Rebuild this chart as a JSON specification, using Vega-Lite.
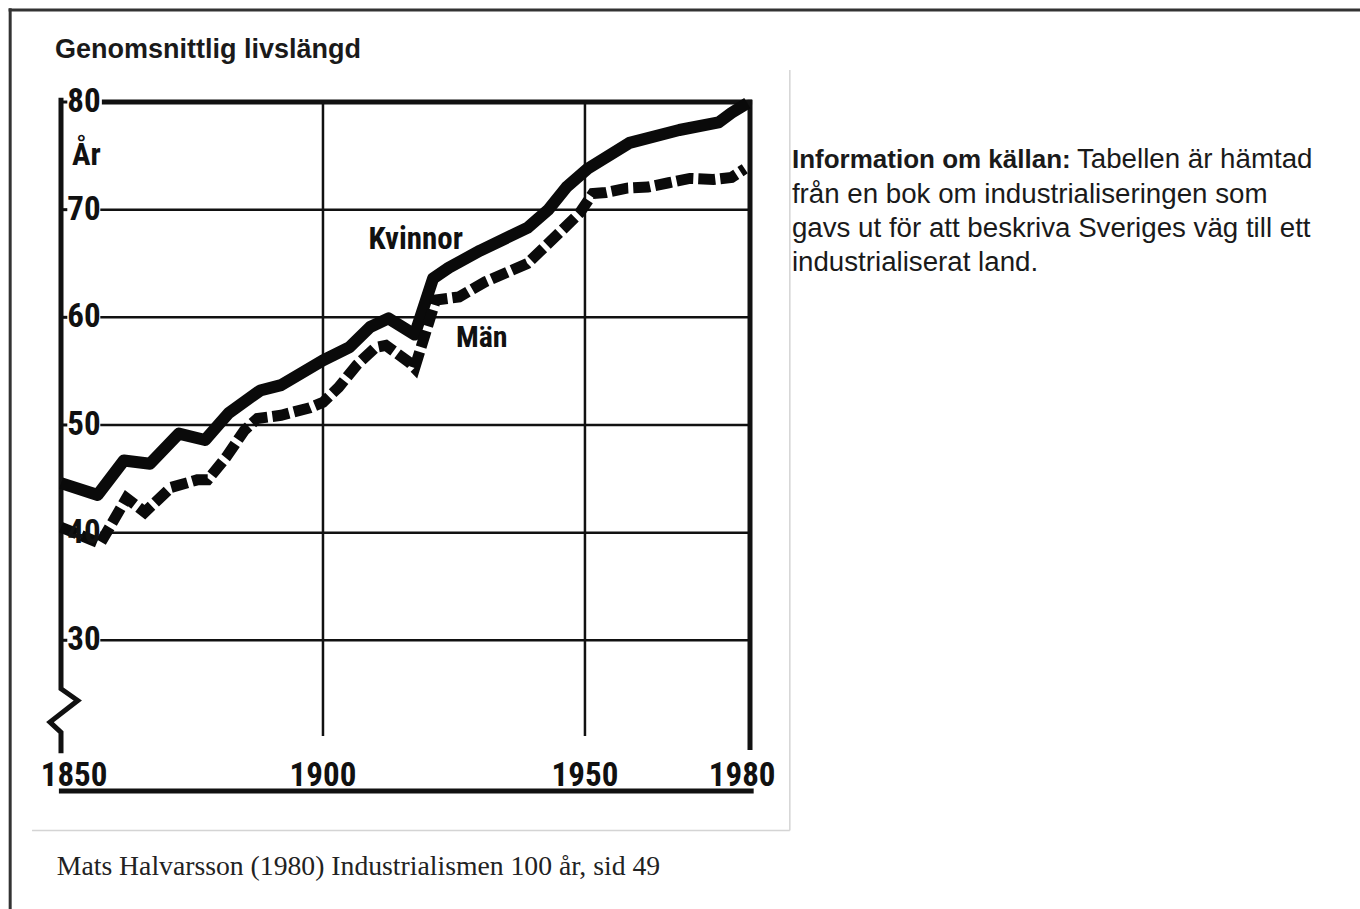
{
  "$schema": "https://vega.github.io/schema/vega-lite/v6.json",
  "width": 689,
  "height": 689,
  "autosize": {"type": "none"},
  "padding": {"left": 61, "top": 102, "right": 610, "bottom": 118},
  "background": "white",
  "config": {"view": {"stroke": null}},
  "data": {
    "values": [
      {"series": "Kvinnor", "year": 1850, "value": 44.6},
      {"series": "Kvinnor", "year": 1857, "value": 43.5},
      {"series": "Kvinnor", "year": 1862, "value": 46.7},
      {"series": "Kvinnor", "year": 1867, "value": 46.4},
      {"series": "Kvinnor", "year": 1872.5, "value": 49.2},
      {"series": "Kvinnor", "year": 1877.5, "value": 48.6},
      {"series": "Kvinnor", "year": 1882, "value": 51.1},
      {"series": "Kvinnor", "year": 1888, "value": 53.2},
      {"series": "Kvinnor", "year": 1892, "value": 53.7},
      {"series": "Kvinnor", "year": 1900, "value": 56.0},
      {"series": "Kvinnor", "year": 1905, "value": 57.2},
      {"series": "Kvinnor", "year": 1909, "value": 59.1},
      {"series": "Kvinnor", "year": 1912.5, "value": 59.9},
      {"series": "Kvinnor", "year": 1917.5, "value": 58.4},
      {"series": "Kvinnor", "year": 1921, "value": 63.6},
      {"series": "Kvinnor", "year": 1924, "value": 64.6},
      {"series": "Kvinnor", "year": 1930, "value": 66.2},
      {"series": "Kvinnor", "year": 1939, "value": 68.3},
      {"series": "Kvinnor", "year": 1943, "value": 70.0},
      {"series": "Kvinnor", "year": 1946.5, "value": 72.1},
      {"series": "Kvinnor", "year": 1950.5, "value": 73.8},
      {"series": "Kvinnor", "year": 1958.5, "value": 76.2},
      {"series": "Kvinnor", "year": 1968, "value": 77.4},
      {"series": "Kvinnor", "year": 1975.5, "value": 78.1},
      {"series": "Kvinnor", "year": 1978, "value": 79.0},
      {"series": "Kvinnor", "year": 1981, "value": 79.9},
      {"series": "Män", "year": 1850, "value": 40.5},
      {"series": "Män", "year": 1857.5, "value": 39.0},
      {"series": "Män", "year": 1862.5, "value": 43.2},
      {"series": "Män", "year": 1866, "value": 41.9},
      {"series": "Män", "year": 1871, "value": 44.2},
      {"series": "Män", "year": 1876, "value": 44.9},
      {"series": "Män", "year": 1878, "value": 44.9},
      {"series": "Män", "year": 1881.5, "value": 47.0},
      {"series": "Män", "year": 1885, "value": 49.5},
      {"series": "Män", "year": 1887.5, "value": 50.6},
      {"series": "Män", "year": 1892, "value": 50.9},
      {"series": "Män", "year": 1897.5, "value": 51.6},
      {"series": "Män", "year": 1900, "value": 52.1},
      {"series": "Män", "year": 1903, "value": 53.5},
      {"series": "Män", "year": 1906.5, "value": 55.6},
      {"series": "Män", "year": 1910, "value": 57.2},
      {"series": "Män", "year": 1912, "value": 57.4},
      {"series": "Män", "year": 1916.5, "value": 55.8},
      {"series": "Män", "year": 1917.5, "value": 55.3},
      {"series": "Män", "year": 1921.5, "value": 61.6},
      {"series": "Män", "year": 1926, "value": 61.9},
      {"series": "Män", "year": 1931, "value": 63.3},
      {"series": "Män", "year": 1939, "value": 65.0},
      {"series": "Män", "year": 1945, "value": 67.8},
      {"series": "Män", "year": 1949, "value": 69.7},
      {"series": "Män", "year": 1951.5, "value": 71.5},
      {"series": "Män", "year": 1954, "value": 71.6},
      {"series": "Män", "year": 1958, "value": 72.0},
      {"series": "Män", "year": 1962, "value": 72.1},
      {"series": "Män", "year": 1966, "value": 72.5},
      {"series": "Män", "year": 1970, "value": 72.9},
      {"series": "Män", "year": 1974.5, "value": 72.8},
      {"series": "Män", "year": 1978, "value": 73.0},
      {"series": "Män", "year": 1980.5, "value": 73.8}
    ]
  },
  "layer": [
    {
      "data": {"values": [{}]},
      "mark": {"type": "rule", "color": "#333", "strokeWidth": 3},
      "encoding": {
        "x": {"datum": 1840.3, "axis": null},
        "y": {"datum": 88.7, "axis": null},
        "y2": {"datum": 4}
      }
    },
    {
      "data": {"values": [{}]},
      "mark": {"type": "rule", "color": "#333", "strokeWidth": 3},
      "encoding": {
        "y": {"datum": 88.55, "axis": null},
        "x": {"datum": 1840.0, "axis": null},
        "x2": {"datum": 2100}
      }
    },
    {
      "data": {"values": [{}]},
      "mark": {"type": "rule", "color": "#d4d4d4", "strokeWidth": 1.5},
      "encoding": {
        "x": {"datum": 1989.1, "axis": null},
        "y": {"datum": 82.97, "axis": null},
        "y2": {"datum": 12.34}
      }
    },
    {
      "data": {"values": [{}]},
      "mark": {"type": "rule", "color": "#d4d4d4", "strokeWidth": 1.5},
      "encoding": {
        "y": {"datum": 12.34, "axis": null},
        "x": {"datum": 1844.47, "axis": null},
        "x2": {"datum": 1989.1}
      }
    },
    {
      "data": {"values": [{"level": 30}, {"level": 40}, {"level": 50}, {"level": 60}, {"level": 70}]},
      "mark": {"type": "rule", "color": "#111", "strokeWidth": 2.5},
      "encoding": {
        "y": {"field": "level", "type": "quantitative", "axis": null},
        "x": {"datum": 1857.5, "axis": null},
        "x2": {"datum": 1981.5}
      }
    },
    {
      "data": {"values": [{"level": 30}, {"level": 40}, {"level": 50}, {"level": 60}, {"level": 70}, {"level": 80}]},
      "mark": {"type": "rule", "color": "#111", "strokeWidth": 3},
      "encoding": {
        "y": {"field": "level", "type": "quantitative", "axis": null},
        "x": {"datum": 1850, "axis": null},
        "x2": {"datum": 1851.2}
      }
    },
    {
      "data": {"values": [{}]},
      "mark": {"type": "rule", "color": "#111", "strokeWidth": 5},
      "encoding": {
        "y": {"datum": 80, "axis": null},
        "x": {"datum": 1857.8, "axis": null},
        "x2": {"datum": 1981.9}
      }
    },
    {
      "data": {"values": [{"yr": 1900}, {"yr": 1950}]},
      "mark": {"type": "rule", "color": "#111", "strokeWidth": 2.5},
      "encoding": {
        "x": {"field": "yr", "type": "quantitative", "axis": null},
        "y": {"datum": 80, "axis": null},
        "y2": {"datum": 21.1}
      }
    },
    {
      "data": {"values": [{}]},
      "mark": {"type": "rule", "color": "#111", "strokeWidth": 5},
      "encoding": {
        "x": {"datum": 1981.5, "axis": null},
        "y": {"datum": 80.2, "axis": null},
        "y2": {"datum": 19.8}
      }
    },
    {
      "data": {"values": [{}]},
      "mark": {"type": "rule", "color": "#111", "strokeWidth": 5},
      "encoding": {
        "y": {"datum": 16, "axis": null},
        "x": {"datum": 1849.6, "axis": null},
        "x2": {"datum": 1982.2}
      }
    },
    {
      "data": {"values": [
        {"p": 1, "ax": 1850, "ay": 80.4},
        {"p": 2, "ax": 1850, "ay": 25.5},
        {"p": 3, "ax": 1853.2, "ay": 24.4},
        {"p": 4, "ax": 1847.9, "ay": 22.4},
        {"p": 5, "ax": 1850, "ay": 21.45},
        {"p": 6, "ax": 1850, "ay": 19.5}
      ]},
      "mark": {"type": "line", "color": "#111", "strokeWidth": 5, "strokeJoin": "miter"},
      "encoding": {
        "x": {"field": "ax", "type": "quantitative", "axis": null},
        "y": {"field": "ay", "type": "quantitative", "axis": null},
        "order": {"field": "p"}
      }
    },
    {
      "transform": [{"filter": "datum.series === 'Kvinnor'"}],
      "mark": {"type": "line", "color": "#0a0a0a", "strokeWidth": 12, "strokeJoin": "round"},
      "encoding": {
        "x": {
          "field": "year", "type": "quantitative",
          "scale": {"domain": [1850, 1981.5], "nice": false, "zero": false},
          "axis": null
        },
        "y": {
          "field": "value", "type": "quantitative",
          "scale": {"domain": [16, 80], "nice": false, "zero": false},
          "axis": null
        }
      }
    },
    {
      "transform": [{"filter": "datum.series === 'Män'"}],
      "mark": {"type": "line", "color": "#0a0a0a", "strokeWidth": 11, "strokeDash": [17, 5], "strokeJoin": "miter"},
      "encoding": {
        "x": {"field": "year", "type": "quantitative", "axis": null},
        "y": {"field": "value", "type": "quantitative", "axis": null}
      }
    },
    {
      "data": {"values": [{"level": 30}, {"level": 40}, {"level": 50}, {"level": 60}, {"level": 70}, {"level": 80}]},
      "mark": {"type": "text", "align": "left", "baseline": "middle", "font": "Roboto Condensed, Roboto, sans-serif", "fontSize": 33, "fontWeight": "bold", "color": "#111"},
      "encoding": {
        "x": {"datum": 1851.2, "axis": null},
        "y": {"field": "level", "type": "quantitative", "axis": null},
        "text": {"field": "level", "type": "quantitative"}
      }
    },
    {
      "data": {"values": [{"yr": 1900}, {"yr": 1950}, {"yr": 1980}]},
      "mark": {"type": "text", "align": "center", "baseline": "alphabetic", "font": "Roboto Condensed, Roboto, sans-serif", "fontSize": 33, "fontWeight": "bold", "color": "#111"},
      "encoding": {
        "x": {"field": "yr", "type": "quantitative", "axis": null},
        "y": {"datum": 16.43, "axis": null},
        "text": {"field": "yr", "type": "nominal"}
      }
    },
    {
      "data": {"values": [{"yr": "1850"}]},
      "mark": {"type": "text", "align": "center", "baseline": "alphabetic", "font": "Roboto Condensed, Roboto, sans-serif", "fontSize": 33, "fontWeight": "bold", "color": "#111"},
      "encoding": {
        "x": {"datum": 1852.5, "axis": null},
        "y": {"datum": 16.43, "axis": null},
        "text": {"field": "yr", "type": "nominal"}
      }
    },
    {
      "data": {"values": [{"label": "Kvinnor"}]},
      "mark": {"type": "text", "align": "center", "baseline": "middle", "font": "Roboto Condensed, Roboto, sans-serif", "fontSize": 31, "fontWeight": "bold", "color": "#111"},
      "encoding": {
        "x": {"datum": 1917.7, "axis": null},
        "y": {"datum": 67.17, "axis": null},
        "text": {"field": "label"}
      }
    },
    {
      "data": {"values": [{"label": "Män"}]},
      "mark": {"type": "text", "align": "center", "baseline": "middle", "font": "Roboto Condensed, Roboto, sans-serif", "fontSize": 30, "fontWeight": "bold", "color": "#111"},
      "encoding": {
        "x": {"datum": 1930.3, "axis": null},
        "y": {"datum": 58.07, "axis": null},
        "text": {"field": "label"}
      }
    },
    {
      "data": {"values": [{"label": "År"}]},
      "mark": {"type": "text", "align": "left", "baseline": "alphabetic", "font": "Roboto Condensed, Roboto, sans-serif", "fontSize": 31, "fontWeight": "bold", "color": "#111"},
      "encoding": {
        "x": {"datum": 1852.1, "axis": null},
        "y": {"datum": 74.15, "axis": null},
        "text": {"field": "label"}
      }
    },
    {
      "data": {"values": [{"label": "Genomsnittlig livslängd"}]},
      "mark": {"type": "text", "align": "left", "baseline": "alphabetic", "font": "Liberation Sans", "fontSize": 27, "fontWeight": "bold", "color": "#1a1a1a"},
      "encoding": {
        "x": {"datum": 1848.85, "axis": null},
        "y": {"datum": 84.09, "axis": null},
        "text": {"field": "label"}
      }
    },
    {
      "data": {"values": [{"label": "Information om källan:"}]},
      "mark": {"type": "text", "align": "left", "baseline": "alphabetic", "font": "Liberation Sans", "fontSize": 26, "fontWeight": "bold", "color": "#1a1a1a"},
      "encoding": {
        "x": {"datum": 1989.5, "axis": null},
        "y": {"datum": 73.87, "axis": null},
        "text": {"field": "label"}
      }
    },
    {
      "data": {"values": [{"label": "Tabellen är hämtad"}]},
      "mark": {"type": "text", "align": "left", "baseline": "alphabetic", "font": "Liberation Sans", "fontSize": 27.7, "color": "#1a1a1a"},
      "encoding": {
        "x": {"datum": 2043.9, "axis": null},
        "y": {"datum": 73.87, "axis": null},
        "text": {"field": "label"}
      }
    },
    {
      "data": {"values": [{"l": 1}]},
      "mark": {"type": "text", "align": "left", "baseline": "alphabetic", "font": "Liberation Sans", "fontSize": 27.7, "color": "#1a1a1a", "lineHeight": 34,
        "text": ["från en bok om industrialiseringen som", "gavs ut för att beskriva Sveriges väg till ett", "industrialiserat land."]},
      "encoding": {
        "x": {"datum": 1989.5, "axis": null},
        "y": {"datum": 70.61, "axis": null}
      }
    },
    {
      "data": {"values": [{"label": "Mats Halvarsson (1980) Industrialismen 100 år, sid 49"}]},
      "mark": {"type": "text", "align": "left", "baseline": "alphabetic", "font": "Liberation Serif", "fontSize": 27.7, "color": "#222"},
      "encoding": {
        "x": {"datum": 1849.2, "axis": null},
        "y": {"datum": 8.16, "axis": null},
        "text": {"field": "label"}
      }
    }
  ]
}
